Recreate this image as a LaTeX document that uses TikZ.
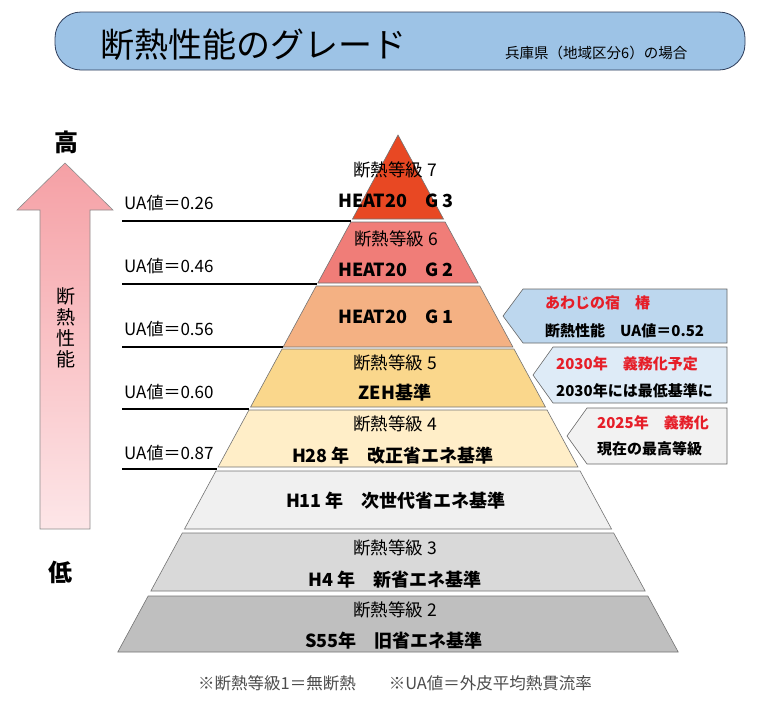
\documentclass[tikz,border=0pt]{standalone}
\usepackage{fontspec}
\setmainfont{Noto Sans CJK JP}
\usetikzlibrary{positioning}
\definecolor{titleblue}{RGB}{157,195,230}
\definecolor{titleline}{RGB}{45,60,90}
\definecolor{arrowtop}{RGB}{245,160,165}
\definecolor{arrowbot}{RGB}{253,230,232}
\definecolor{lvseven}{RGB}{232,72,35}
\definecolor{lvsix}{RGB}{240,125,120}
\definecolor{lvgone}{RGB}{244,177,131}
\definecolor{lvfive}{RGB}{250,215,140}
\definecolor{lvfour}{RGB}{255,238,200}
\definecolor{lveleven}{RGB}{240,240,240}
\definecolor{lvthree}{RGB}{217,217,217}
\definecolor{lvtwo}{RGB}{191,191,191}
\definecolor{notered}{RGB}{230,30,40}
\definecolor{noteone}{RGB}{189,215,238}
\definecolor{notetwo}{RGB}{222,235,247}
\definecolor{notethree}{RGB}{242,242,242}
\tikzset{
  layer/.style={draw=black!55, line width=0.6pt},
  grade/.style={font=\fontsize{17.5}{20}\selectfont},
  std/.style={font=\bfseries\fontsize{18}{20}\selectfont},
  ualabel/.style={anchor=west, inner sep=0pt, font=\fontsize{17}{20}\selectfont},
  ualine/.style={line width=1.6pt},
  callout/.style={draw=black!60, line width=0.6pt},
  notetitle/.style={anchor=west, inner sep=0pt, text=notered, font=\bfseries\fontsize{15}{17}\selectfont},
  notetext/.style={anchor=west, inner sep=0pt, font=\bfseries\fontsize{15}{17}\selectfont},
}
\begin{document}
\begin{tikzpicture}[x=1pt, y=-1pt]
	\useasboundingbox (0,0) rectangle (767,705);
	% title
	\draw[fill=titleblue, draw=titleline, line width=0.8pt, rounded corners=26pt] (55,12) rectangle (745,70);
	\node[anchor=west, inner sep=0pt, font=\fontsize{34}{38}\selectfont] (title) at (100,45) {断熱性能のグレード};
	\node[anchor=west, inner sep=0pt, font=\fontsize{14.5}{16}\selectfont] (region) at (505,53) {兵庫県（地域区分6）の場合};
	% arrow
	\shade[top color=arrowtop, bottom color=arrowbot, draw=black!45, line width=0.6pt] (65,163) -- (113,210) -- (90,210) -- (90,529) -- (40,529) -- (40,210) -- (17,210) -- cycle;
	\node[font=\bfseries\fontsize{24}{26}\selectfont] (high) at (66,142) {高};
	\node[font=\bfseries\fontsize{24}{26}\selectfont] (low) at (60,572) {低};
	\node[align=center, font=\fontsize{19}{21}\selectfont] (axis) at (66,328) {断\\熱\\性\\能};
	% pyramid
	\foreach \t/\b/\c in {135/219/lvseven, 222/283/lvsix, 286/347/lvgone, 349/407/lvfive, 410/467/lvfour, 471/529/lveleven, 533/591/lvthree, 596/652/lvtwo}
		\filldraw[layer, fill=\c] ({398-0.542*(\t-135)},\t) -- ({398+0.542*(\t-135)},\t) -- ({398+0.542*(\b-135)},\b) -- ({398-0.542*(\b-135)},\b) -- cycle;
	\node[grade] (gseven) at (395,170) {断熱等級 7};
	\node[std] (heatthree) at (396,201) {HEAT20　G 3};
	\node[grade] (gsix) at (396,239) {断熱等級 6};
	\node[std] (heattwo) at (396,270) {HEAT20　G 2};
	\node[std] (heatone) at (396,317) {HEAT20　G 1};
	\node[grade] (gfive) at (395,363) {断熱等級 5};
	\node[std] (zeh) at (395,393) {ZEH基準};
	\node[grade] (gfour) at (395,424) {断熱等級 4};
	\node[std] (hnew) at (393,456) {H28 年　改正省エネ基準};
	\node[std] (hnext) at (396,501) {H11 年　次世代省エネ基準};
	\node[grade] (gthree) at (395,548) {断熱等級 3};
	\node[std] (hfour) at (395,580) {H4 年　新省エネ基準};
	\node[grade] (gtwo) at (395,610) {断熱等級 2};
	\node[std] (hold) at (394,641) {S55年　旧省エネ基準};
	% UA values
	\foreach \v/\ty/\ly in {26/203/221, 46/266/284, 56/329/347, 60/392/409, 87/453/469} {
		\node[ualabel] (ua\v) at (124,\ty) {UA値＝0.\v};
		\coordinate (ue\v) at ({398-0.542*(\ly-135)},\ly);
		\draw[ualine] ([xshift=-2pt]ua\v.west |- ue\v) -- (ue\v);
	}
	% callouts
	\filldraw[callout, fill=noteone] (503,316) -- (523,289) -- (727,289) -- (727,343) -- (523,343) -- cycle;
	\filldraw[callout, fill=notetwo] (533,375) -- (553,347) -- (727,347) -- (727,403) -- (553,403) -- cycle;
	\filldraw[callout, fill=notethree] (567,436) -- (587,408) -- (727,408) -- (727,464) -- (587,464) -- cycle;
	\node[notetitle] (inn) at (545,303) {あわじの宿　椿};
	\node[notetext] (innua) at (545,331) {断熱性能　UA値＝0.52};
	\node[notetitle] (duty30) at (556,364) {2030年　義務化予定};
	\node[notetext] (min30) at (556,391) {2030年には最低基準に};
	\node[notetitle] (duty25) at (597,423) {2025年　義務化};
	\node[notetext] (top25) at (597,449) {現在の最高等級};
	% note
	\node[text=black!70, font=\fontsize{16.5}{18}\selectfont] (footnote) at (395,683) {※断熱等級1＝無断熱　　※UA値＝外皮平均熱貫流率};
\end{tikzpicture}
\end{document}
